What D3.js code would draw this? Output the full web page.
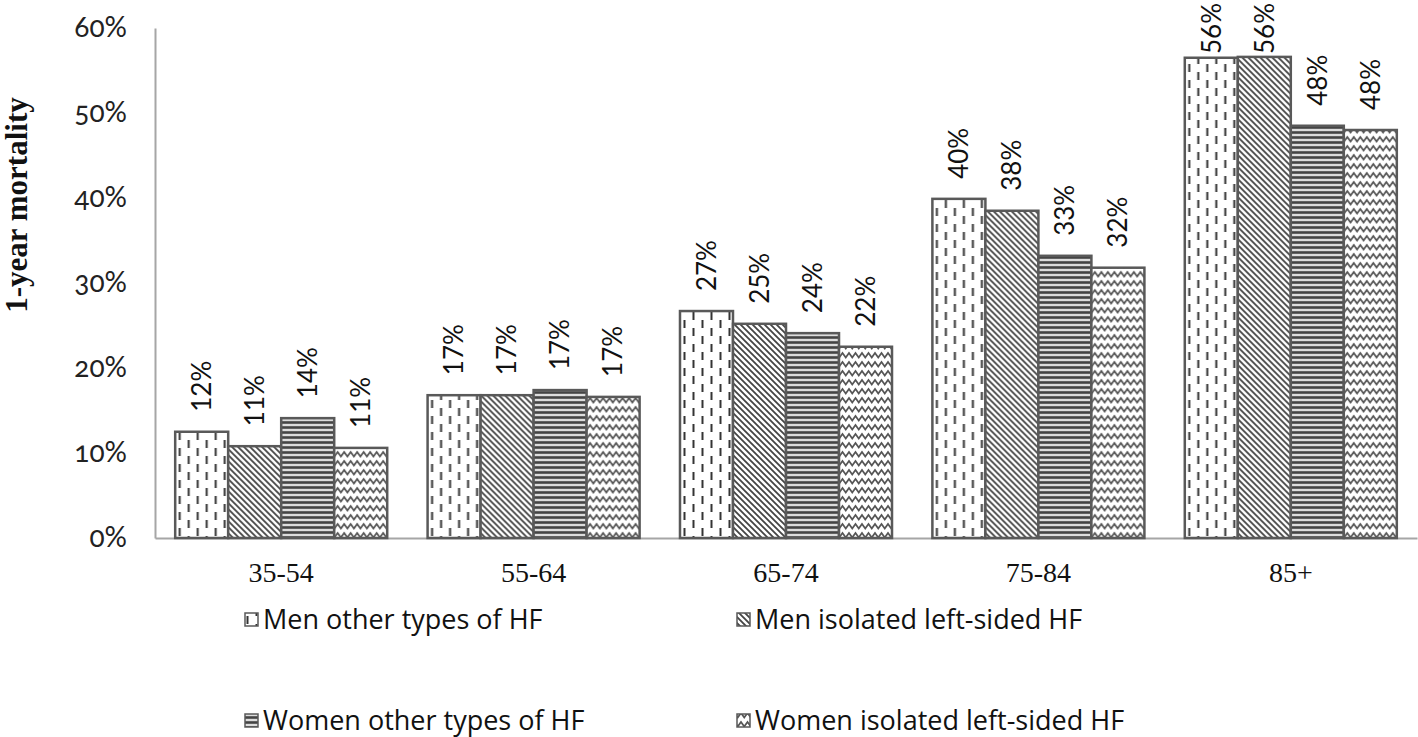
<!DOCTYPE html>
<html><head><meta charset="utf-8">
<script src="https://cdn.jsdelivr.net/npm/d3@7"></script>
<style>
body{margin:0;background:#fff;}
svg{display:block;}
</style></head>
<body>
<svg id="chart" width="1418" height="737"></svg>
<script>
const categories = ["35-54","55-64","65-74","75-84","85+"];
const seriesNames = ["Men other types of HF","Men isolated left-sided HF","Women other types of HF","Women isolated left-sided HF"];
const menOther   = [0.125, 0.168, 0.267, 0.399, 0.565];
const menLeft    = [0.108, 0.168, 0.252, 0.385, 0.566];
const womenOther = [0.141, 0.174, 0.241, 0.332, 0.485];
const womenLeft  = [0.106, 0.166, 0.225, 0.318, 0.480];
const labelsMenOther   = ["12%","17%","27%","40%","56%"];
const labelsMenLeft    = ["11%","17%","25%","38%","56%"];
const labelsWomenOther = ["14%","17%","24%","33%","48%"];
const labelsWomenLeft  = ["11%","17%","22%","32%","48%"];
const yTicks = [0,0.1,0.2,0.3,0.4,0.5,0.6];

const series = [menOther, menLeft, womenOther, womenLeft];
const seriesLabels = [labelsMenOther, labelsMenLeft, labelsWomenOther, labelsWomenLeft];

const svg = d3.select("#chart");
const defs = svg.append("defs");

// Patterns
const p0 = defs.append("pattern").attr("id","pat0").attr("patternUnits","userSpaceOnUse")
  .attr("width",18).attr("height",16);
p0.append("rect").attr("width",18).attr("height",16).attr("fill","#fff");
p0.append("line").attr("x1",4.5).attr("x2",4.5).attr("y1",0).attr("y2",8).attr("stroke","#333").attr("stroke-width",2);
p0.append("line").attr("x1",13.5).attr("x2",13.5).attr("y1",8).attr("y2",16).attr("stroke","#333").attr("stroke-width",2);

const p1 = defs.append("pattern").attr("id","pat1").attr("patternUnits","userSpaceOnUse")
  .attr("width",6).attr("height",6);
p1.append("rect").attr("width",6).attr("height",6).attr("fill","#fff");
p1.append("path").attr("d","M-1,-1 L7,7 M-4,2 L1,7 M2,-4 L7,1").attr("stroke","#444").attr("stroke-width",1.8);

const p2 = defs.append("pattern").attr("id","pat2").attr("patternUnits","userSpaceOnUse")
  .attr("width",6).attr("height",5);
p2.append("rect").attr("width",6).attr("height",5).attr("fill","#ddd");
p2.append("line").attr("x1",0).attr("x2",6).attr("y1",2.5).attr("y2",2.5).attr("stroke","#444").attr("stroke-width",2.6);

const p3 = defs.append("pattern").attr("id","pat3").attr("patternUnits","userSpaceOnUse")
  .attr("width",13).attr("height",9);
p3.append("rect").attr("width",13).attr("height",9).attr("fill","#fff");
p3.append("path").attr("d","M-3.25,6.5 L0,2 L3.25,6.5 L6.5,2 L9.75,6.5 L13,2 L16.25,6.5").attr("fill","none").attr("stroke","#555").attr("stroke-width",1.7);

const x0 = d3.scaleBand().domain(categories).range([155,1417]).paddingInner(0.16).paddingOuter(0.08);
const x1 = d3.scaleBand().domain(d3.range(4)).range([0, x0.bandwidth()]);
const y = d3.scaleLinear().domain([0,0.6]).range([538,28]);

// Y axis
const yAxis = d3.axisLeft(y).tickValues(yTicks).tickFormat(d3.format(".0%")).tickSize(0).tickPadding(28);
const gy = svg.append("g").attr("transform","translate(155,0)").call(yAxis);
gy.select(".domain").attr("stroke","#a6a6a6").attr("stroke-width",2);
gy.selectAll("text").attr("font-family","Lato, 'Open Sans', sans-serif").attr("font-size",28)
  .style("font-variant-numeric","oldstyle-nums").attr("fill","#222");

// X axis
const xAxis = d3.axisBottom(x0).tickSize(0).tickPadding(24);
const gx = svg.append("g").attr("transform","translate(0,538)").call(xAxis);
gx.select(".domain").attr("stroke","#a6a6a6").attr("stroke-width",2);
gx.selectAll("text").attr("font-family","'Liberation Serif', 'Times New Roman', serif").attr("font-size",28).attr("fill","#111");

// Bars
const groups = svg.append("g").selectAll("g").data(categories).join("g")
  .attr("transform", d => `translate(${x0(d)},0)`);
groups.each(function(cat, ci){
  const g = d3.select(this);
  series.forEach((s, si) => {
    g.append("rect")
      .attr("x", x1(si)).attr("width", x1.bandwidth())
      .attr("y", y(s[ci])).attr("height", y(0) - y(s[ci]))
      .attr("fill", `url(#pat${si})`)
      .attr("stroke","#595959").attr("stroke-width",2.5);
    const t = g.append("text")
      .attr("dy","0.36em")
      .attr("font-family","Lato, 'Open Sans', sans-serif").attr("font-size",26).attr("fill","#111")
      .text(seriesLabels[si][ci]);
    const L = t.node().getComputedTextLength();
    const bottom = Math.max(y(s[ci]) - 20, 3 + L);
    t.attr("transform", `translate(${x1(si)+x1.bandwidth()/2},${bottom}) rotate(-90)`);
  });
});

// Y title
svg.append("text")
  .attr("transform","translate(16,205) rotate(-90)")
  .attr("text-anchor","middle").attr("dy","0.35em")
  .attr("font-family","'Liberation Serif', 'Times New Roman', serif")
  .attr("font-weight","bold").attr("font-size",31).attr("fill","#111")
  .text("1-year mortality");

// Legend
const legendPos = [[245,620],[737,620],[245,721],[737,721]];
seriesNames.forEach((name, i) => {
  const [lx, ly] = legendPos[i];
  svg.append("rect").attr("x",lx).attr("y",ly-7).attr("width",13).attr("height",13)
    .attr("fill",`url(#pat${i})`).attr("stroke","#595959").attr("stroke-width",1.5);
  svg.append("text").attr("x",lx+18).attr("y",ly).attr("dy","0.35em")
    .attr("font-family","'Open Sans', Lato, sans-serif").attr("font-size",27).attr("fill","#111")
    .text(name);
});
</script>
</body></html>
